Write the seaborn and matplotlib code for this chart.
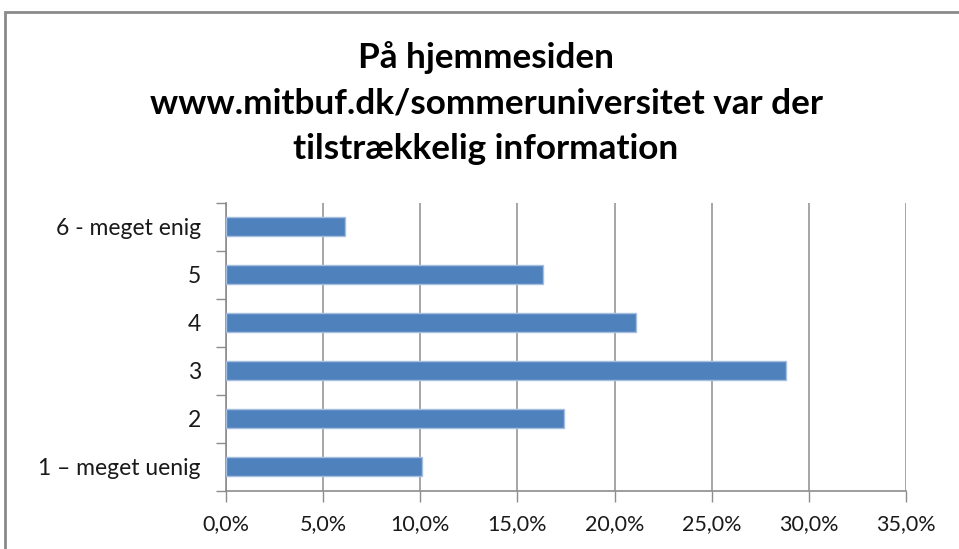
import matplotlib
matplotlib.use("Agg")
import matplotlib.pyplot as plt
import matplotlib.ticker as mticker
from matplotlib.patches import Rectangle
import seaborn as sns
import pandas as pd
import numpy as np

categories = ["6 - meget enig", "5", "4", "3", "2", "1 \u2013 meget uenig"]
values = [6.1, 16.3, 21.1, 28.8, 17.4, 10.1]
x_ticks = [0, 5, 10, 15, 20, 25, 30, 35]
title_lines = ["På hjemmesiden", "www.mitbuf.dk/sommeruniversitet var der", "tilstrækkelig information"]

sns.set_theme(style="white")
plt.rcParams['font.family'] = ['Lato', 'DejaVu Sans']

df = pd.DataFrame({"cat": categories, "val": values})

fig = plt.figure(figsize=(9.59, 5.49), dpi=100)
ax = fig.add_axes([226/959, 1-490.7/549, (906-226)/959, (490.7-202.7)/549])

sns.barplot(data=df, x="val", y="cat", orient="h", color="#4F81BD", width=0.39,
            edgecolor="#a7bfdf", linewidth=1.0, saturation=1, ax=ax, zorder=3)

ax.set_xlim(0, 35)
ax.set_ylim(len(categories) - 0.5, -0.5)
ax.set_xticks(x_ticks)
ax.xaxis.set_major_formatter(mticker.FuncFormatter(lambda v, p: f"{v:.1f}".replace(".", ",") + "%"))
ax.grid(axis="x", color="#a6a6a6", linewidth=1.4, zorder=0)
ax.grid(axis="y", visible=False)
ax.set_xlabel("")
ax.set_ylabel("")

for s in ["top", "right"]:
    ax.spines[s].set_visible(False)
for s in ["left", "bottom"]:
    ax.spines[s].set_color("#8c8c8c")
    ax.spines[s].set_linewidth(1.2)

ax.tick_params(axis="x", which="major", direction="out", length=8, width=1.0, color="#8c8c8c",
               labelsize=15.5, labelcolor="#1a1a1a", pad=9, bottom=True)
ax.tick_params(axis="y", which="major", length=0, labelsize=16.5, labelcolor="#1a1a1a", pad=18)
ax.set_yticks(np.arange(-0.5, len(categories), 1), minor=True)
ax.tick_params(axis="y", which="minor", direction="out", length=7, width=1.0, color="#8c8c8c", left=True)

fig.text(486/959, 1-103/549, "\n".join(title_lines), ha="center", va="center",
         fontsize=25.3, fontweight="bold", color="#000000", linespacing=1.52)

frame = Rectangle((4.5/959, -0.1), 1.1, (1 - 12.5/549) + 0.1,
                  transform=fig.transFigure, fill=False, edgecolor="#8a8a8a", linewidth=2.0)
fig.patches.append(frame)

fig.savefig("out.png", dpi=100, facecolor="white")
